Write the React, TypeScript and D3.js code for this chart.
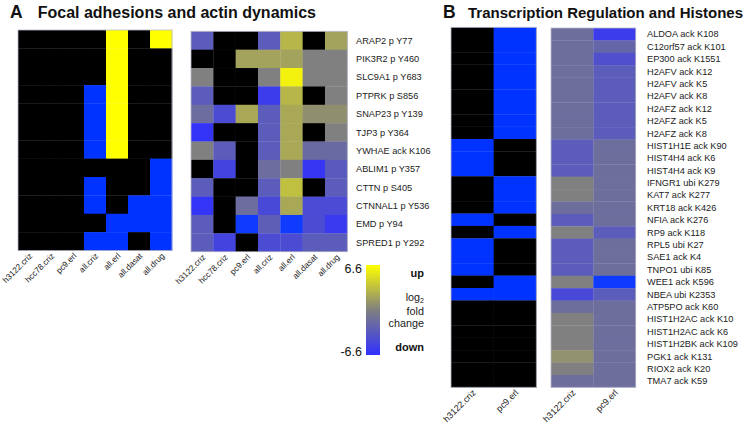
import React from 'react';
import * as d3 from 'd3';

const colsA = ['h3122.criz', 'hcc78.criz', 'pc9.erl', 'all.criz', 'all.erl', 'all.dasat', 'all.drug'];
const rowsA = [
  'ARAP2 p Y77', 'PIK3R2 p Y460', 'SLC9A1 p Y683', 'PTPRK p S856', 'SNAP23 p Y139', 'TJP3 p Y364',
  'YWHAE ack K106', 'ABLIM1 p Y357', 'CTTN p S405', 'CTNNAL1 p Y536', 'EMD p Y94', 'SPRED1 p Y292',
];
// binary call: 1 up, -1 down, 0 none
const binaryA = [
  [0, 0, 0, 0, 1, 0, 1],
  [0, 0, 0, 0, 1, 0, 0],
  [0, 0, 0, 0, 1, 0, 0],
  [0, 0, 0, -1, 1, 0, 0],
  [0, 0, 0, -1, 1, 0, 0],
  [0, 0, 0, -1, 1, 0, 0],
  [0, 0, 0, -1, 1, 0, 0],
  [0, 0, 0, 0, 0, 0, -1],
  [0, 0, 0, -1, 0, 0, -1],
  [0, 0, 0, -1, 0, -1, -1],
  [0, 0, 0, 0, -1, -1, -1],
  [0, 0, 0, -1, -1, 0, -1],
];
// log2 fold change, null = not measured
const foldA = [
  [-3, null, null, -3, 2.8, null, 1.8],
  [null, null, 1.8, 1.8, 1.8, 0, 0],
  [0, null, null, 0, 5.9, 0, 0],
  [-3, null, null, -5.6, 2.8, null, 0],
  [-1.6, -4.3, 2.1, -3, 2.1, 0.8, 0.8],
  [-6.3, null, null, -3, 2.1, null, 0],
  [0, -3, null, -3, 2.1, -1.8, -1.8],
  [null, -5, null, -1.6, 0, -6, -3.2],
  [-3, null, null, -3, 3.3, null, -3],
  [-6.2, null, -1.6, -4.5, 2.1, -4.4, -4.4],
  [-3, null, -9, -2.8, -9, -4.3, -5.8],
  [-3, -5, null, -4.3, -4.3, -3, -3],
];

const colsB = ['h3122.criz', 'pc9.erl'];
const rowsB = [
  'ALDOA ack K108', 'C12orf57 ack K101', 'EP300 ack K1551', 'H2AFV ack K12', 'H2AFV ack K5', 'H2AFV ack K8',
  'H2AFZ ack K12', 'H2AFZ ack K5', 'H2AFZ ack K8', 'HIST1H1E ack K90', 'HIST4H4 ack K6', 'HIST4H4 ack K9',
  'IFNGR1 ubi K279', 'KAT7 ack K277', 'KRT18 ack K426', 'NFIA ack K276', 'RP9 ack K118', 'RPL5 ubi K27',
  'SAE1 ack K4', 'TNPO1 ubi K85', 'WEE1 ack K596', 'NBEA ubi K2353', 'ATP5PO ack K60', 'HIST1H2AC ack K10',
  'HIST1H2AC ack K6', 'HIST1H2BK ack K109', 'PGK1 ack K131', 'RIOX2 ack K20', 'TMA7 ack K59',
];
const binaryB = [
  [0, -1], [0, -1], [0, -1], [0, -1], [0, -1], [0, -1], [0, -1], [0, -1], [0, -1],
  [-1, 0], [-1, 0], [-1, 0],
  [0, -1], [0, -1], [0, -1],
  [-1, 0], [0, -1], [-1, 0], [-1, 0], [-1, 0], [0, -1], [-1, -1],
  [0, 0], [0, 0], [0, 0], [0, 0], [0, 0], [0, 0], [0, 0],
];
const foldB = [
  [-1.5, -5.6], [-1.5, -2.2], [-1.5, -4], [-1.5, -3], [-1.5, -3], [-1.5, -3], [-1.5, -3], [-1.5, -3], [-1.5, -3],
  [-3, -1.5], [-3, -1.5], [-3, -1.5],
  [0, -1.5], [0, -1.5], [-1.5, -1.5],
  [-3, -1.5], [0, -3], [-3, -1.5], [-3, -1.5], [-3, -1.5], [0, -9], [-4.5, -3],
  [-1.5, -1.5], [0, -1.5], [0, -1.5], [0, -1.5], [0.9, -1.5], [0, -1.5], [-1.5, -1.5],
];

const legendTicks = ['6.6', '-6.6'];

const FONT = '"Liberation Sans", Arial, Helvetica, sans-serif';

const foldColor = d3
  .scaleLinear<string>()
  .domain([-10, -6.6, 0, 6.6])
  .range(['#0040ff', '#3030ff', '#808080', '#ffff00'])
  .clamp(true);

const binColor = (v: number) => (v > 0 ? '#ffff00' : v < 0 ? '#0033ff' : '#000000');

type HMProps = {
  x0: number; x1: number; y0: number; y1: number;
  cols: string[]; rows: string[];
  data: (number | null)[][];
  color: (v: number | null) => string;
  colFont: number;
  rowLabelX?: number;
  rowFont?: number;
};

function Heatmap({ x0, x1, y0, y1, cols, rows, data, color, colFont, rowLabelX, rowFont }: HMProps) {
  const x = d3.scaleBand<string>().domain(cols).range([x0, x1]);
  const y = d3.scaleBand<string>().domain(rows).range([y0, y1]);
  return (
    <g>
      {rows.map((r, i) =>
        cols.map((c, j) => (
          <rect
            key={r + c}
            x={x(c)}
            y={y(r)}
            width={x.bandwidth() + 0.3}
            height={y.bandwidth() + 0.3}
            fill={color(data[i][j])}
          />
        ))
      )}
      <rect x={x0} y={y0} width={x1 - x0} height={y1 - y0} fill="none" stroke="#b8b8c8" strokeWidth={0.8} />
      {cols.map((c) => {
        const cx = (x(c) as number) + x.bandwidth() / 2 + 4;
        const cy = y1 + 6;
        return (
          <text
            key={'c' + c}
            transform={`translate(${cx},${cy}) rotate(-45)`}
            textAnchor="end"
            fontSize={colFont}
            fontFamily={FONT}
            fill="#222"
          >
            {c}
          </text>
        );
      })}
      {rowLabelX !== undefined &&
        rows.map((r) => (
          <text
            key={'r' + r}
            x={rowLabelX}
            y={(y(r) as number) + y.bandwidth() / 2}
            dy="0.35em"
            fontSize={rowFont}
            fontFamily={FONT}
            fill="#222"
          >
            {r}
          </text>
        ))}
    </g>
  );
}

export default function App() {
  const lgTop = 265;
  const lgBot = 355;
  const lgScale = d3.scaleLinear().domain([6.6, -6.6]).range([lgTop, lgBot]);
  const stops = d3.range(0, 11).map((i) => -6.6 + (13.2 * i) / 10);
  return (
    <svg
      width={750}
      height={428}
      viewBox="0 0 750 428"
      style={{ position: 'absolute', left: 0, top: 0, background: '#fff' }}
    >
      <defs>
        <linearGradient id="lg" x1="0" y1="1" x2="0" y2="0">
          {stops.map((v, i) => (
            <stop key={i} offset={`${(i / 10) * 100}%`} stopColor={foldColor(v)} />
          ))}
        </linearGradient>
      </defs>
      <rect x={0} y={0} width={750} height={428} fill="#fff" />

      {/* Panel A titles */}
      <text x={10} y={18.3} fontSize={17.5} fontWeight="bold" fontFamily={FONT} fill="#111">A</text>
      <text x={37.7} y={18.3} fontSize={16} fontWeight="bold" fontFamily={FONT} fill="#111">
        Focal adhesions and actin dynamics
      </text>

      <Heatmap
        x0={18} x1={172} y0={30} y1={250.5}
        cols={colsA} rows={rowsA} data={binaryA}
        color={(v) => binColor(v as number)}
        colFont={8.3}
      />
      <Heatmap
        x0={191} x1={347.3} y0={31.3} y1={251.7}
        cols={colsA} rows={rowsA} data={foldA}
        color={(v) => (v === null ? '#000000' : foldColor(v))}
        colFont={8.3}
        rowLabelX={356}
        rowFont={9.2}
      />

      {/* Legend */}
      <rect x={366} y={lgTop} width={14} height={lgBot - lgTop} fill="url(#lg)" />
      {legendTicks.map((t) => (
        <text
          key={t}
          x={362}
          y={lgScale(+t)}
          dy={+t > 0 ? '0.6em' : '0.05em'}
          textAnchor="end"
          fontSize={12.5}
          fontFamily={FONT}
          fill="#111"
        >
          {t}
        </text>
      ))}
      <text x={424} y={276.5} textAnchor="end" fontSize={11} fontWeight="bold" fontFamily={FONT} fill="#111">up</text>
      <text x={424} y={301} textAnchor="end" fontSize={10.8} fontFamily={FONT} fill="#222">
        log<tspan fontSize={7} dy={1.8}>2</tspan>
      </text>
      <text x={424} y={315} textAnchor="end" fontSize={10.8} fontFamily={FONT} fill="#222">fold</text>
      <text x={424} y={326.5} textAnchor="end" fontSize={10.8} fontFamily={FONT} fill="#222">change</text>
      <text x={424} y={351} textAnchor="end" fontSize={11} fontWeight="bold" fontFamily={FONT} fill="#111">down</text>

      {/* Panel B */}
      <text x={443} y={18.3} fontSize={17.5} fontWeight="bold" fontFamily={FONT} fill="#111">B</text>
      <text x={468} y={18.3} fontSize={15} fontWeight="bold" fontFamily={FONT} fill="#111">
        Transcription Regulation and Histones
      </text>

      <Heatmap
        x0={451} x1={536.3} y0={27.3} y1={387.3}
        cols={colsB} rows={rowsB} data={binaryB}
        color={(v) => binColor(v as number)}
        colFont={9}
      />
      <Heatmap
        x0={551} x1={635.7} y0={28} y1={387.3}
        cols={colsB} rows={rowsB} data={foldB}
        color={(v) => (v === null ? '#000000' : foldColor(v))}
        colFont={9}
        rowLabelX={647}
        rowFont={9.2}
      />
    </svg>
  );
}
